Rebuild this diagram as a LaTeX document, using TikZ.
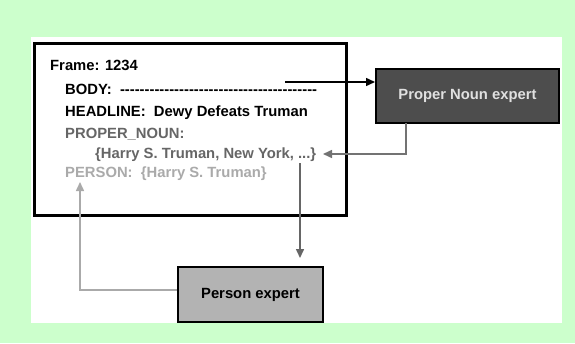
\documentclass[tikz,border=0pt]{standalone}
\usepackage{fontspec}
\setmainfont{Liberation Sans}[Ligatures=TeXOff]
\usetikzlibrary{arrows.meta}
\definecolor{bg}{RGB}{204,255,204}
\definecolor{pnfill}{RGB}{77,77,77}
\definecolor{pntext}{RGB}{224,224,224}
\definecolor{psfill}{RGB}{179,179,179}
\definecolor{midgray}{RGB}{102,102,102}
\definecolor{lightgray}{RGB}{170,170,170}
\definecolor{arrgray}{RGB}{115,115,115}
\tikzset{
  txt/.style={anchor=base west, inner sep=0pt, font=\fontsize{14.8}{17}\selectfont\bfseries},
  expert/.style={draw=black, line width=2pt, font=\fontsize{14.8}{17}\selectfont\bfseries},
  arr/.style={line width=1.5pt, -{Triangle[length=9pt,width=8pt]}}
}
\begin{document}
\begin{tikzpicture}[x=1pt,y=-1pt]
\useasboundingbox (0,0) rectangle (575,343);
\fill[bg] (0,0) rectangle (575,343);
\fill[white] (31,37) rectangle (562,323);
\node (frame) [draw, line width=2.5pt, minimum width=312pt, minimum height=172pt, anchor=north west, inner sep=0pt] at (33,42) {};
\node (t1) [txt] at (50,70) {Frame: 1234};
\node (t2) [txt] at (65,94) {BODY:\ \ ----------------------------------------};
\node (t3) [txt] at (65,116) {HEADLINE:\ \ Dewy Defeats Truman};
\node (t4) [txt, text=midgray] at (65,138) {PROPER\_NOUN:};
\node (t5) [txt, text=midgray] at (95,158) {\{Harry S. Truman, New York, ...\}};
\node (t6) [txt, text=lightgray] at (65,177) {PERSON:\ \ \{Harry S. Truman\}};
\node (pn) [expert, fill=pnfill, text=pntext, minimum width=183pt, minimum height=54pt] at (467.5,96) {Proper Noun expert};
\node (ps) [expert, fill=psfill, text=black, minimum width=145pt, minimum height=55pt] at (250.5,294.5) {Person expert};
\coordinate (bodyout) at (285,82);
\coordinate (pnout) at (406,123);
\coordinate (pnin) at (323,154);
\coordinate (dotsout) at (300,163);
\coordinate (psin) at (80,182);
\draw[arr, black] (bodyout) -- (bodyout -| pn.west) ;
\draw[arr, arrgray] (pnout) |- (pnin);
\draw[arr, midgray, shorten >=8pt] (dotsout) -- (dotsout |- ps.north);
\draw[arr, lightgray] ([yshift=4.5pt]ps.west) -| (psin);
\end{tikzpicture}
\end{document}
